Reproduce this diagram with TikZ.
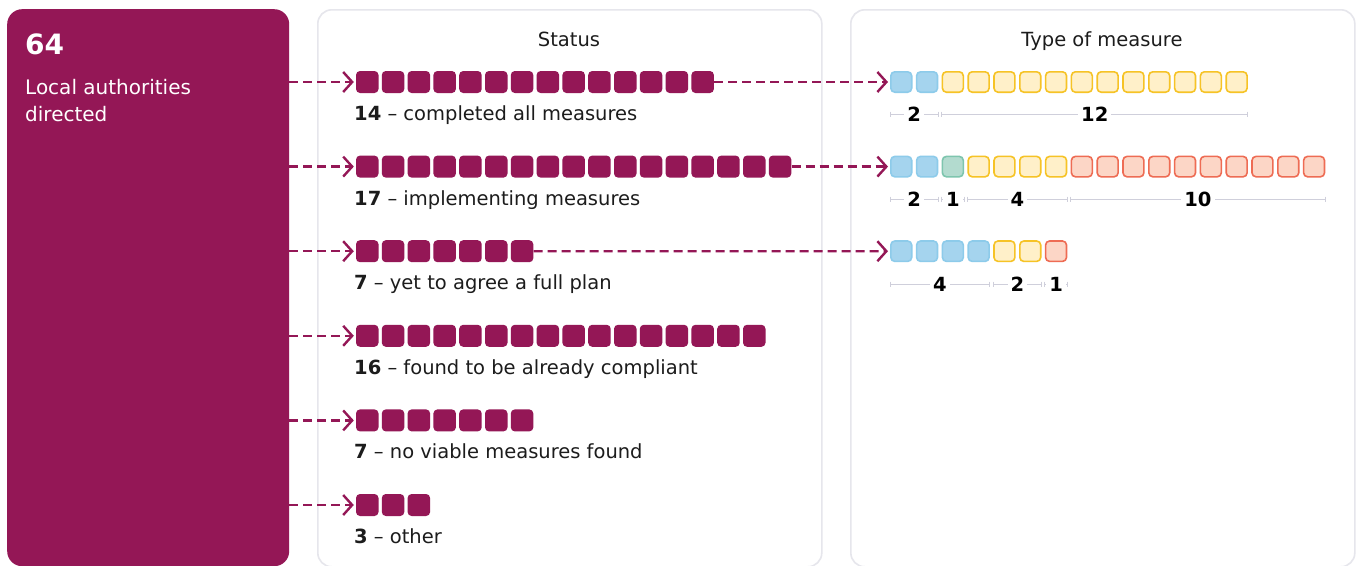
\documentclass[tikz,border=0pt]{standalone}
\usepackage{fontspec}
\setmainfont{DejaVu Sans}
\usetikzlibrary{arrows.meta}
\definecolor{plum}{HTML}{941756}
\definecolor{panelline}{HTML}{E6E6EC}
\definecolor{ink}{HTML}{1C1C1C}
\definecolor{bfill}{HTML}{A5D4EE}
\definecolor{bdraw}{HTML}{8DCBEA}
\definecolor{gfill}{HTML}{B3DBCF}
\definecolor{gdraw}{HTML}{7EC5AE}
\definecolor{yfill}{HTML}{FFF0C9}
\definecolor{ydraw}{HTML}{F6C326}
\definecolor{rfill}{HTML}{FCD6C6}
\definecolor{rdraw}{HTML}{EE6C54}
\definecolor{brk}{HTML}{CFCFDB}
\tikzset{
  sq/.style={minimum width=22.5pt, minimum height=22pt, inner sep=0pt, rounded corners=4pt},
  stsq/.style={sq, fill=plum},
  tsq/.style={sq, line width=1.6pt, minimum width=20.9pt, minimum height=20.4pt},
  tB/.style={tsq, fill=bfill, draw=bdraw},
  tG/.style={tsq, fill=gfill, draw=gdraw},
  tY/.style={tsq, fill=yfill, draw=ydraw},
  tR/.style={tsq, fill=rfill, draw=rdraw},
  flow/.style={plum, line width=2.4pt, dash pattern=on 9pt off 5pt,
    -{Straight Barb[length=9pt,width=20pt]}},
  panel/.style={draw=panelline, line width=1.6pt, fill=white, rounded corners=14pt,
    inner sep=0pt, anchor=north west},
  lbl/.style={inner sep=0pt, anchor=base west, text=ink, font=\fontsize{19.5}{22}\selectfont},
  title/.style={inner sep=0pt, anchor=base, text=ink, font=\fontsize{19.5}{22}\selectfont},
  brkline/.style={draw=brk, line width=0.9pt},
  brknum/.style={fill=white, inner xsep=3pt, inner ysep=1pt, text=black,
    font=\fontsize{19.5}{22}\selectfont\bfseries},
}
\newcommand\measbrk[5]{% #1 name, #2 y, #3 first, #4 last, #5 label
  \pgfmathsetmacro\bxa{890+(#3-1)*25.8}
  \pgfmathsetmacro\bxb{890+(#4-1)*25.8+22.5}
  \draw[brkline] (\bxa,#2-2.5) -- (\bxa,#2+2.5) (\bxa,#2) -- (\bxb,#2)
    (\bxb,#2-2.5) -- (\bxb,#2+2.5);
  \node[brknum] (#1) at ({(\bxa+\bxb)/2},#2) {#5};
}
\begin{document}
\begin{tikzpicture}[x=1pt,y=-1pt]
\useasboundingbox (0,0) rectangle (1357,565);
\clip (0,0) rectangle (1357,565);
\fill[white] (0,0) rectangle (1357,565);

% left box
\node[fill=plum, rounded corners=15pt, minimum width=282pt, minimum height=557pt,
  inner sep=0pt, anchor=north west] (la) at (7,9) {};
\node[inner sep=0pt, anchor=base west, text=white, font=\fontsize{28}{30}\selectfont\bfseries]
  (num) at (25,54) {64};
\node[inner sep=0pt, anchor=base west, text=white, font=\fontsize{20}{24}\selectfont]
  (la1) at (25,94.5) {Local authorities};
\node[inner sep=0pt, anchor=base west, text=white, font=\fontsize{20}{24}\selectfont]
  (la2) at (25,121.5) {directed};

% panels
\node[panel, minimum width=504pt, minimum height=557pt] (pst) at (317,9) {};
\node[panel, minimum width=504pt, minimum height=557pt] (pty) at (850,9) {};
\node[title] (tst) at (569,46.5) {Status};
\node[title] (tty) at (1102,46.5) {Type of measure};

% status rows
\foreach \n/\lab [count=\r] in {14/completed all measures, 17/implementing measures,
  7/yet to agree a full plan, 16/found to be already compliant,
  7/no viable measures found, 3/other}{
  \pgfmathsetmacro\yy{82+(\r-1)*84.6}
  \foreach \i in {1,...,\n}{
    \node[stsq] (s\r-\i) at ({367.25+(\i-1)*25.8},\yy) {};
  }
  \node[lbl] (l\r) at (354,\yy+38.5) {\textbf{\n} \textendash{} \lab};
  \draw[flow] (la.east |- s\r-1.west) -- ([xshift=-2pt]s\r-1.west);
}

% type rows
\foreach \c [count=\i] in {B,B,Y,Y,Y,Y,Y,Y,Y,Y,Y,Y,Y,Y}{
  \node[t\c] (t1-\i) at ({901.25+(\i-1)*25.8},82) {};
}
\foreach \c [count=\i] in {B,B,G,Y,Y,Y,Y,R,R,R,R,R,R,R,R,R,R}{
  \node[t\c] (t2-\i) at ({901.25+(\i-1)*25.8},166.6) {};
}
\foreach \c [count=\i] in {B,B,B,B,Y,Y,R}{
  \node[t\c] (t3-\i) at ({901.25+(\i-1)*25.8},251.2) {};
}
\draw[flow] (s1-14.east) -- ([xshift=-2pt]t1-1.west);
\draw[flow] (s2-17.east) -- ([xshift=-2pt]t2-1.west);
\draw[flow] (s3-7.east) -- ([xshift=-2pt]t3-1.west);

% brackets
\measbrk{b11}{114}{1}{2}{2}
\measbrk{b12}{114}{3}{14}{12}
\measbrk{b21}{199}{1}{2}{2}
\measbrk{b22}{199}{3}{3}{1}
\measbrk{b23}{199}{4}{7}{4}
\measbrk{b24}{199}{8}{17}{10}
\measbrk{b31}{284}{1}{4}{4}
\measbrk{b32}{284}{5}{6}{2}
\measbrk{b33}{284}{7}{7}{1}
\end{tikzpicture}
\end{document}
